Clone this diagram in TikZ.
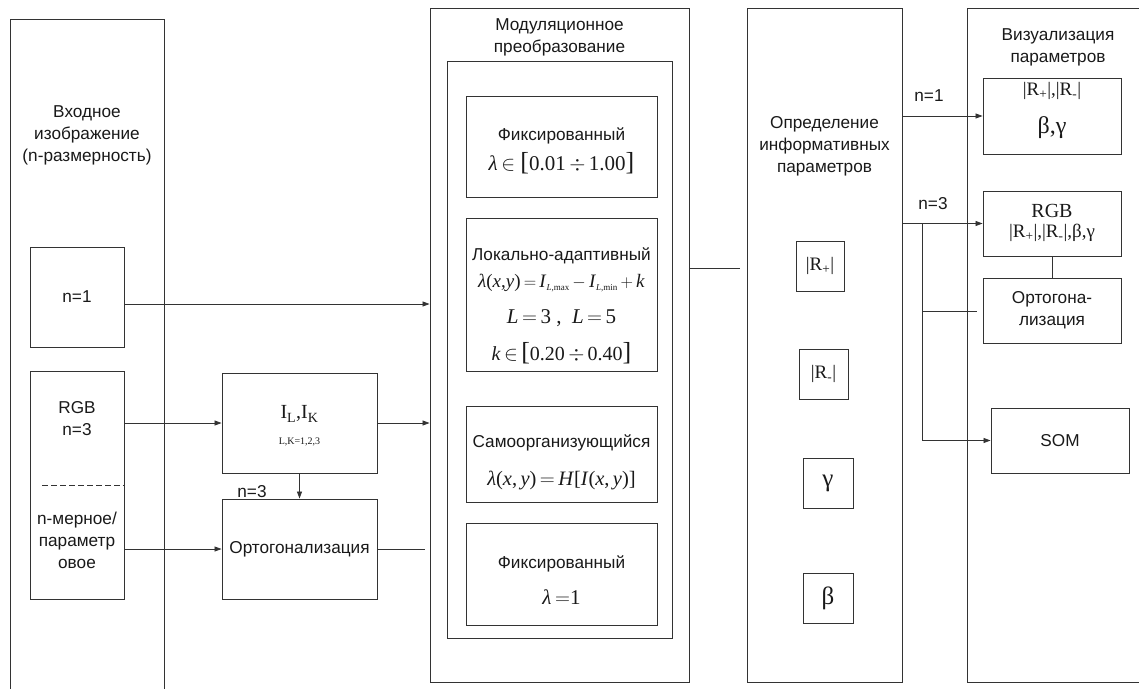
\documentclass[tikz,border=0pt]{standalone}
\usepackage{fontspec}
\setmainfont{Liberation Sans}
\newfontfamily\tms{Liberation Serif}
\usetikzlibrary{arrows.meta,calc}
\newcommand{\lam}{{\itshape λ}}
\newcommand{\bigbr}[1]{{\fontsize{26}{26}\selectfont #1}}
\newcommand{\sbs}[1]{\raisebox{-3.5pt}{\fontsize{9}{9}\selectfont #1}}
\begin{document}
\begin{tikzpicture}[x=1pt,y=-1pt,
 box/.style={draw=black!80, line width=0.9pt, rectangle, inner sep=0pt},
 arr/.style={-{Triangle[length=7pt,width=5pt]}, draw=black!80, line width=0.8pt},
 ln/.style={draw=black!80, line width=0.8pt},
 lab/.style={font=\fontsize{17.2}{22}\selectfont, align=center, text=black!90, inner sep=0pt},
 frm/.style={font=\tms\fontsize{20}{23}\selectfont, align=center, inner sep=0pt, text=black!90},
]
\useasboundingbox (0,0) rectangle (1139,688);
\clip (0,0) rectangle (1139,688);

% input column
\node[box, minimum width=154, minimum height=701] (inp) at (87,369.5) {};
\node[lab] (inpt) at (87,135) {Входное\\изображение\\(n-размерность)};
\node[box, minimum width=94, minimum height=100, lab] (n1) at (77,297) {n=1};
\node[box, minimum width=94, minimum height=228] (rgb) at (77,485) {};
\node[lab] (rgbt) at (77,418.5) {RGB\\n=3};
\node[lab] (nmt) at (77,540) {n-мерное/\\параметр\\овое};
\coordinate (d1) at (42,485);
\draw[ln, dash pattern=on 6pt off 3pt] (d1) -- (d1 -| rgb.east);

% IL and orthogonalization
\node[box, minimum width=155, minimum height=100] (IL) at (299.5,423) {};
\node[frm, font=\tms\fontsize{20}{23}\selectfont] (ILt) at (299.5,414) {I\textsubscript{L},I\textsubscript{K}};
\node[frm, font=\tms\fontsize{10}{12}\selectfont] (ILs) at (299.5,442) {L,K=1,2,3};
\node[box, minimum width=155, minimum height=100, lab] (orth) at (299.5,549) {Ортогонализация};
\node[lab] (n3a) at (252,492) {n=3};

% modulation column
\node[box, minimum width=259, minimum height=674] (mod) at (559.5,345) {};
\node[lab] (modt) at (559.5,37.5) {Модуляционное\\преобразование};
\node[box, minimum width=225, minimum height=577] (modi) at (559.5,349.5) {};
\node[box, minimum width=191, minimum height=101] (b1) at (561.5,146.5) {};
\node[box, minimum width=191, minimum height=153] (b2) at (561.5,294.5) {};
\node[box, minimum width=191, minimum height=96] (b3) at (561.5,454) {};
\node[box, minimum width=191, minimum height=102] (b4) at (561.5,574) {};
\node[lab] (b1t) at (561.5,136) {Фиксированный};
\node[frm, font=\tms\fontsize{21}{23}\selectfont] (b1f) at (561.5,163) {\lam\,$\in$ \bigbr{[}0.01\,$\div$\,1.00\bigbr{]}};
\node[lab] (b2t) at (561.5,256) {Локально-адаптивный};
\node[frm, font=\tms\fontsize{19}{23}\selectfont] (b2f) at (561.5,283) {\lam(\textit{x},\textit{y})\,$=$\,\textit{I}\sbs{\textit{L},max}\,$-$\,\textit{I}\sbs{\textit{L},min}\,$+$\,\textit{k}};
\node[frm, font=\tms\fontsize{21}{23}\selectfont] (b2g) at (561.5,318) {\textit{L}\,$=$\,3 ,\enspace\textit{L}\,$=$\,5};
\node[frm] (b2h) at (561.5,353) {\textit{k}\,$\in$\,\bigbr{[}0.20\,$\div$\,0.40\bigbr{]}};
\node[lab] (b3t) at (561.5,443) {Самоорганизующийся};
\node[frm, font=\tms\fontsize{20.5}{23}\selectfont] (b3f) at (561.5,480) {\lam(\textit{x},\,\textit{y})\,$=$\,\textit{H}[\textit{I}(\textit{x},\,\textit{y})]};
\node[lab] (b4t) at (561.5,564) {Фиксированный};
\node[frm, font=\tms\fontsize{21}{23}\selectfont] (b4f) at (561.5,597) {\lam\,$=$1};

% parameters column
\node[box, minimum width=155, minimum height=674] (opr) at (824.5,345) {};
\node[lab] (oprt) at (824.5,146) {Определение\\информативных\\параметров};
\node[box, minimum width=48, minimum height=50, frm, font=\tms\fontsize{19}{20}\selectfont] (rp) at (820,266) {|R\textsubscript{+}|};
\node[box, minimum width=49, minimum height=50, frm, font=\tms\fontsize{19}{20}\selectfont] (rm) at (823.5,374) {|R\textsubscript{-}|};
\node[box, minimum width=50, minimum height=50, frm, font=\tms\fontsize{25}{26}\selectfont] (ga) at (828,483) {γ};
\node[box, minimum width=50, minimum height=50, frm, font=\tms\fontsize{25}{26}\selectfont] (be) at (828,598) {β};

% visualization column
\node[box, minimum width=193, minimum height=674] (vis) at (1063.5,345) {};
\node[lab] (vist) at (1058,47) {Визуализация\\параметров};
\node[box, minimum width=138, minimum height=76] (A) at (1052,116) {};
\node[frm, font=\tms\fontsize{19}{20}\selectfont] (At) at (1052,91) {|R\textsubscript{+}|,|R\textsubscript{-}|};
\node[frm, font=\tms\fontsize{24}{26}\selectfont] (Ab) at (1052,128) {β,γ};
\node[box, minimum width=138, minimum height=65] (B) at (1052,223.5) {};
\node[frm, font=\tms\fontsize{20}{22}\selectfont] (Bt) at (1052,211) {RGB};
\node[frm, font=\tms\fontsize{19}{20}\selectfont] (Bb) at (1052,233) {|R\textsubscript{+}|,|R\textsubscript{-}|,β,γ};
\node[box, minimum width=138, minimum height=65, lab] (o2) at (1052,310.5) {Ортогона-\\лизация};
\node[box, minimum width=138, minimum height=65, lab] (som) at (1060,440.5) {SOM};
\node[lab] (n1l) at (929,96) {n=1};
\node[lab] (n3l) at (933,204) {n=3};

% connectors
\draw[arr] ([yshift=-7pt]n1.east) -- ([yshift=-7pt]n1.east -| mod.west);
\draw[arr] (rgb.east |- IL.west) -- (IL.west);
\draw[arr] (rgb.east |- orth.west) -- (orth.west);
\draw[arr] (IL.east) -- (IL.east -| mod.west);
\draw[arr] (IL.south) -- (orth.north);
\coordinate (oe) at (425,549);
\draw[ln] (orth.east) -- (oe);
\coordinate (me) at (740,268);
\draw[ln] (mod.east |- me) -- (me);
\draw[arr] (opr.east |- A.west) -- (A.west);
\draw[arr] (opr.east |- B.west) -- (B.west);
\coordinate (br) at (922,223.5);
\coordinate (bo) at (977,311);
\draw[arr] (br) |- (som.west);
\draw[ln] (br |- bo) -- (bo);
\draw[ln] (B.south) -- (o2.north);
\end{tikzpicture}
\end{document}
